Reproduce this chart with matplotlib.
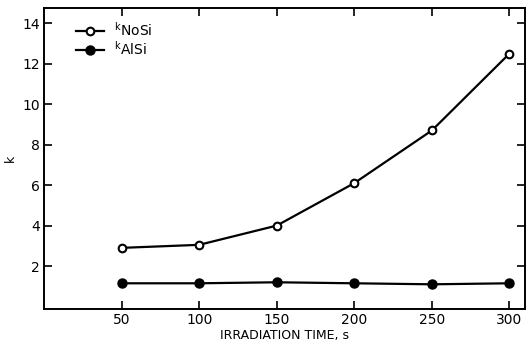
import matplotlib
matplotlib.use("Agg")
import matplotlib.pyplot as plt

time_s = [50, 100, 150, 200, 250, 300]
k_nosi = [2.9, 3.05, 4.0, 6.1, 8.7, 12.5]
k_alsi = [1.15, 1.15, 1.2, 1.15, 1.1, 1.15]
xticks = [50, 100, 150, 200, 250, 300]
yticks = [2, 4, 6, 8, 10, 12, 14]

fig = plt.figure(figsize=(5.26, 3.47), dpi=100)
ax = fig.add_axes([44/526, 1-309/347, 481/526, 301/347])
ax.plot(time_s, k_nosi, color='black', lw=1.6, marker='o', ms=5.5,
        mfc='white', mec='black', mew=1.5, label=r'$^{\mathrm{k}}$NoSi')
ax.plot(time_s, k_alsi, color='black', lw=1.6, marker='o', ms=6.5,
        mfc='black', mec='black', label=r'$^{\mathrm{k}}$AlSi')
ax.set_xlim(0, 310)
ax.set_ylim(-0.12, 14.75)
ax.set_xticks(xticks)
ax.set_yticks(yticks)
ax.tick_params(direction='in', top=True, right=True, length=6, width=1.2,
               labelsize=10, pad=3)
for s in ax.spines.values():
    s.set_linewidth(1.4)
ax.set_xlabel('IRRADIATION TIME, s', fontsize=9, labelpad=1)
ax.set_ylabel('k', fontsize=9, labelpad=4)
leg = ax.legend(loc='upper left', bbox_to_anchor=(0.055, 0.975), frameon=False,
                fontsize=10, handlelength=2.0, handletextpad=0.7, labelspacing=0.05,
                borderaxespad=0)
fig.savefig('out.png', dpi=100)
